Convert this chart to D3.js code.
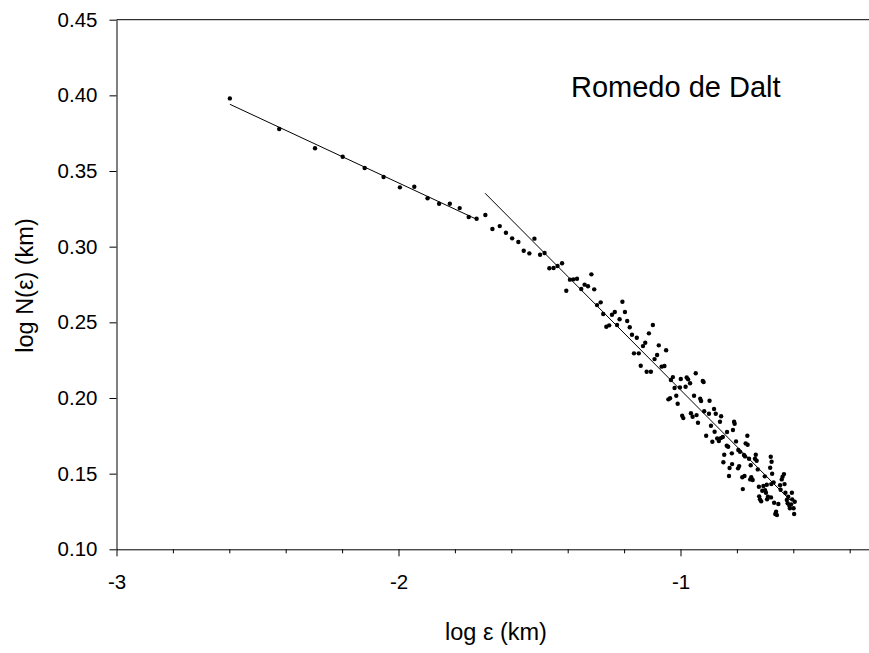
<!DOCTYPE html>
<html>
<head>
<meta charset="utf-8">
<script src="https://cdn.jsdelivr.net/npm/d3@7"></script>
<style>
  html, body { margin: 0; padding: 0; background: #fff; }
  svg { display: block; }
  text { font-family: "Liberation Sans", Arial, Helvetica, sans-serif; fill: #000; }
</style>
</head>
<body>
<svg id="chart" width="869" height="653"></svg>
<script>
// log ε (km) for each box size
const logEps = [
  -2.598, -2.423, -2.296, -2.198, -2.120, -2.053, -1.995, -1.944, -1.897, -1.856,
  -1.818, -1.783, -1.751, -1.723, -1.692, -1.667, -1.641, -1.619, -1.597, -1.575,
  -1.556, -1.536, -1.518, -1.498, -1.482, -1.465, -1.450, -1.436, -1.420, -1.405,
  -1.392, -1.380, -1.367, -1.352, -1.340, -1.328, -1.316, -1.306, -1.296, -1.283,
  -1.274, -1.263, -1.253, -1.243, -1.233, -1.225, -1.216, -1.206, -1.197, -1.189,
  -1.180, -1.172, -1.165, -1.155, -1.148, -1.141, -1.133, -1.125, -1.120, -1.112,
  -1.105, -1.098, -1.092, -1.083, -1.077, -1.067, -1.057, -1.051, -1.043, -1.037,
  -1.034, -1.027, -1.021, -1.015, -1.010, -1.002, -0.999, -0.994, -0.990, -0.982,
  -0.978, -0.973, -0.966, -0.963, -0.957, -0.952, -0.946, -0.943, -0.938, -0.930,
  -0.927, -0.921, -0.918, -0.916, -0.909, -0.899, -0.897, -0.892, -0.887, -0.881,
  -0.879, -0.875, -0.870, -0.864, -0.860, -0.857, -0.856, -0.850, -0.848, -0.845,
  -0.836, -0.835, -0.831, -0.828, -0.826, -0.818, -0.817, -0.814, -0.810, -0.808,
  -0.803, -0.796, -0.795, -0.792, -0.789, -0.781, -0.779, -0.775, -0.773, -0.771,
  -0.769, -0.763, -0.762, -0.757, -0.753, -0.751, -0.749, -0.744, -0.736, -0.733,
  -0.730, -0.726, -0.722, -0.721, -0.718, -0.714, -0.710, -0.706, -0.701, -0.700,
  -0.697, -0.694, -0.693, -0.690, -0.682, -0.680, -0.679, -0.678, -0.677, -0.675,
  -0.670, -0.668, -0.664, -0.661, -0.658, -0.653, -0.647, -0.645, -0.641, -0.638,
  -0.633, -0.631, -0.628, -0.623, -0.620, -0.618, -0.614, -0.612, -0.608, -0.605,
  -0.604, -0.599, -0.597, -0.595
];

// log N(ε) (km) measured at each box size
const logN = [
  0.3980, 0.3778, 0.3650, 0.3594, 0.3520, 0.3460, 0.3392, 0.3396, 0.3320, 0.3284,
  0.3284, 0.3255, 0.3196, 0.3185, 0.3209, 0.3117, 0.3136, 0.3092, 0.3055, 0.3031,
  0.2973, 0.2956, 0.3053, 0.2947, 0.2958, 0.2857, 0.2859, 0.2872, 0.2890, 0.2709,
  0.2782, 0.2784, 0.2788, 0.2720, 0.2749, 0.2738, 0.2817, 0.2718, 0.2614, 0.2632,
  0.2555, 0.2471, 0.2480, 0.2550, 0.2568, 0.2482, 0.2520, 0.2636, 0.2568, 0.2509,
  0.2467, 0.2418, 0.2295, 0.2398, 0.2295, 0.2213, 0.2343, 0.2365, 0.2173, 0.2427,
  0.2173, 0.2482, 0.2257, 0.2284, 0.2348, 0.2207, 0.2211, 0.2315, 0.1991, 0.1998,
  0.2119, 0.2138, 0.2066, 0.2015, 0.1962, 0.2070, 0.2125, 0.1883, 0.1867, 0.2074,
  0.2136, 0.2123, 0.2097, 0.1899, 0.1876, 0.2015, 0.2163, 0.1887, 0.1836, 0.1995,
  0.1980, 0.2112, 0.2105, 0.1912, 0.1750, 0.1896, 0.1982, 0.1817, 0.1711, 0.1927,
  0.1777, 0.1896, 0.1733, 0.1715, 0.1843, 0.1735, 0.1879, 0.1742, 0.1575, 0.1625,
  0.1684, 0.1775, 0.1678, 0.1484, 0.1537, 0.1634, 0.1563, 0.1788, 0.1843, 0.1830,
  0.1713, 0.1535, 0.1656, 0.1550, 0.1645, 0.1476, 0.1398, 0.1623, 0.1484, 0.1614,
  0.1700, 0.1750, 0.1691, 0.1598, 0.1462, 0.1555, 0.1476, 0.1458, 0.1598, 0.1625,
  0.1585, 0.1528, 0.1413, 0.1350, 0.1330, 0.1317, 0.1387, 0.1418, 0.1482, 0.1390,
  0.1374, 0.1427, 0.1330, 0.1347, 0.1539, 0.1612, 0.1343, 0.1431, 0.1579, 0.1499,
  0.1442, 0.1308, 0.1233, 0.1248, 0.1226, 0.1299, 0.1423, 0.1394, 0.1462, 0.1480,
  0.1497, 0.1431, 0.1374, 0.1326, 0.1304, 0.1347, 0.1288, 0.1271, 0.1297, 0.1374,
  0.1330, 0.1271, 0.1233, 0.1314
];

// Fitted regression segments: small-scale and large-scale regimes
const fitSmallX = [-2.598, -1.723];
const fitSmallY = [0.3941, 0.3181];
const fitLargeX = [-1.693, -0.612];
const fitLargeY = [0.3353, 0.1326];

// Axis ticks
const xMajorTicks = [-3, -2, -1];
const xMinorTicks = [-2.8, -2.6, -2.4, -2.2, -1.8, -1.6, -1.4, -1.2, -0.8, -0.6, -0.4];
const yTicks = [0.10, 0.15, 0.20, 0.25, 0.30, 0.35, 0.40, 0.45];

const svg = d3.select("#chart");

const plotLeft = 116.5, plotTop = 19.7, plotBottom = 549.3;
const pxPerUnit = 282;
const xDomain = [-3, -0.33];

const x = d3.scaleLinear()
  .domain(xDomain)
  .range([plotLeft, plotLeft + (xDomain[1] - xDomain[0]) * pxPerUnit]);
const y = d3.scaleLinear()
  .domain([0.10, 0.45])
  .range([plotBottom, plotTop]);

// Top frame line
svg.append("line")
  .attr("x1", x.range()[0]).attr("x2", x.range()[1])
  .attr("y1", y(0.45)).attr("y2", y(0.45))
  .attr("stroke", "#000").attr("stroke-width", 1);

// X axis: major ticks with labels, minor ticks without
const xAxisG = svg.append("g").attr("transform", `translate(0,${plotBottom})`);
xAxisG.call(d3.axisBottom(x).tickValues(xMajorTicks).tickSize(7).tickSizeOuter(0)
  .tickPadding(18).tickFormat(d => String(d)));
svg.append("g").attr("transform", `translate(0,${plotBottom})`)
  .call(d3.axisBottom(x).tickValues(xMinorTicks).tickSize(4).tickSizeOuter(0).tickFormat(""))
  .select(".domain").remove();

// Y axis
const yAxisG = svg.append("g").attr("transform", `translate(${plotLeft},0)`);
yAxisG.call(d3.axisLeft(y).tickValues(yTicks).tickSize(7).tickSizeOuter(0)
  .tickPadding(12).tickFormat(d3.format(".2f")));

svg.selectAll(".domain, .tick line").attr("stroke", "#000").attr("stroke-width", 1);
svg.selectAll(".tick text").attr("font-size", 20.5).attr("fill", "#000")
  .style("font-family", '"Liberation Sans", Arial, sans-serif');

// Regression lines
const line = d3.line().x(d => x(d[0])).y(d => y(d[1]));
svg.append("path")
  .attr("d", line(d3.zip(fitSmallX, fitSmallY)))
  .attr("fill", "none").attr("stroke", "#000").attr("stroke-width", 1);
svg.append("path")
  .attr("d", line(d3.zip(fitLargeX, fitLargeY)))
  .attr("fill", "none").attr("stroke", "#000").attr("stroke-width", 1);

// Data points
svg.append("g").selectAll("circle")
  .data(d3.zip(logEps, logN))
  .join("circle")
  .attr("cx", d => x(d[0]))
  .attr("cy", d => y(d[1]))
  .attr("r", 2.2)
  .attr("fill", "#000");

// Site name
svg.append("text")
  .attr("x", 571).attr("y", 97)
  .attr("font-size", 29)
  .text("Romedo de Dalt");

// Axis titles
svg.append("text")
  .attr("x", 496).attr("y", 640)
  .attr("text-anchor", "middle")
  .attr("font-size", 23.5)
  .text("log ε (km)");

svg.append("text")
  .attr("transform", "translate(33,285.5) rotate(-90)")
  .attr("text-anchor", "middle")
  .attr("font-size", 23.5)
  .text("log N(ε) (km)");
</script>
</body>
</html>
